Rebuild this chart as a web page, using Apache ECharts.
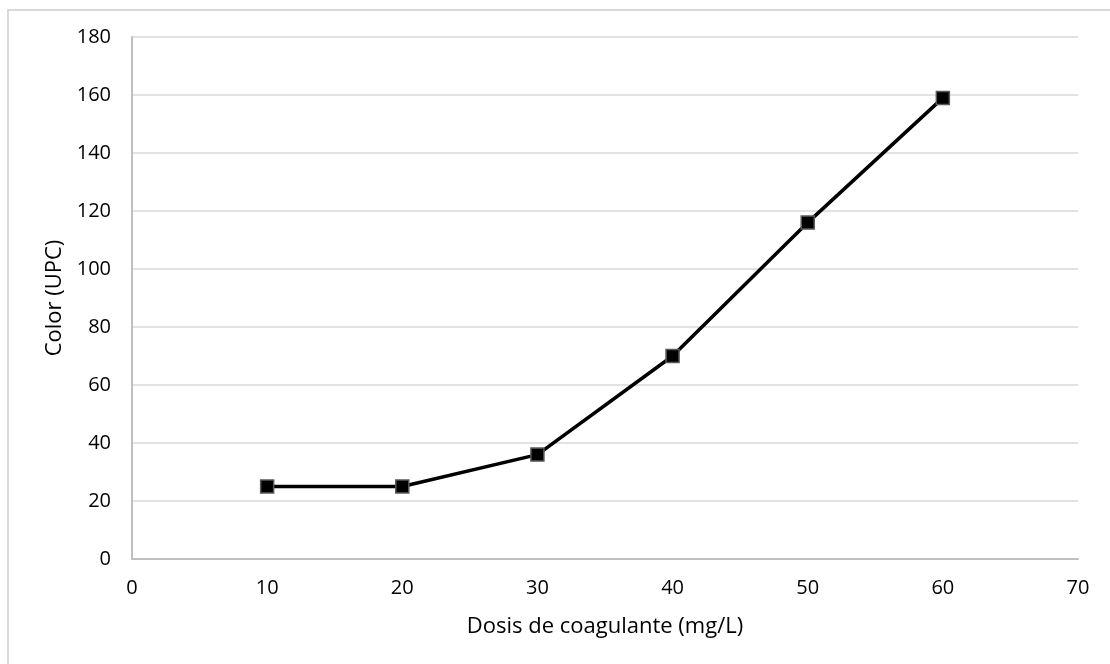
<!DOCTYPE html>
<html>
<head>
<meta charset="utf-8">
<script src="https://cdn.jsdelivr.net/npm/echarts@6/dist/echarts.min.js"></script>
<style>
  html, body { margin: 0; padding: 0; background: #fff; overflow: hidden; }
  #frame {
    position: absolute; left: 7px; top: 9px; width: 1200px; height: 700px;
    border-top: 2px solid #d9d9d9; border-left: 2px solid #d9d9d9;
  }
  #chart { position: absolute; left: 0; top: 0; width: 1110px; height: 664px; }
</style>
</head>
<body>
<div id="frame"></div>
<div id="chart"></div>
<script>
// dosis de coagulante (mg/L) vs color (UPC)
const dosis = [10, 20, 30, 40, 50, 60];
const color = [25, 25, 36, 70, 116, 159];
const xTicks = [0, 10, 20, 30, 40, 50, 60, 70];
const yTicks = [0, 20, 40, 60, 80, 100, 120, 140, 160, 180];

const font = "Open Sans";
const chart = echarts.init(document.getElementById("chart"));
chart.setOption({
  animation: false,
  grid: { left: 132, right: 32, top: 37, bottom: 105 },
  xAxis: {
    type: "value",
    min: xTicks[0],
    max: xTicks[xTicks.length - 1],
    interval: 10,
    name: "Dosis de coagulante (mg/L)",
    nameLocation: "middle",
    nameGap: 57,
    nameTextStyle: { color: "#000", fontSize: 22, fontFamily: font },
    axisLine: { lineStyle: { color: "#bfbfbf", width: 2 } },
    axisTick: { show: false },
    splitLine: { show: false },
    axisLabel: { color: "#000", fontSize: 20, fontFamily: font, margin: 19 }
  },
  yAxis: {
    type: "value",
    min: yTicks[0],
    max: yTicks[yTicks.length - 1],
    interval: 20,
    name: "Color (UPC)",
    nameLocation: "middle",
    nameGap: 64,
    nameTextStyle: { color: "#000", fontSize: 22, fontFamily: font },
    axisLine: { show: true, lineStyle: { color: "#bfbfbf", width: 2 } },
    axisTick: { show: false },
    splitLine: { lineStyle: { color: "#d9d9d9", width: 1.5 } },
    axisLabel: { color: "#000", fontSize: 20, fontFamily: font, margin: 21 }
  },
  series: [{
    type: "line",
    data: dosis.map((d, i) => [d, color[i]]),
    symbol: "rect",
    symbolSize: 13,
    lineStyle: { color: "#000", width: 3.5 },
    itemStyle: { color: "#000", borderColor: "#595959", borderWidth: 1.5 }
  }]
});
</script>
</body>
</html>
